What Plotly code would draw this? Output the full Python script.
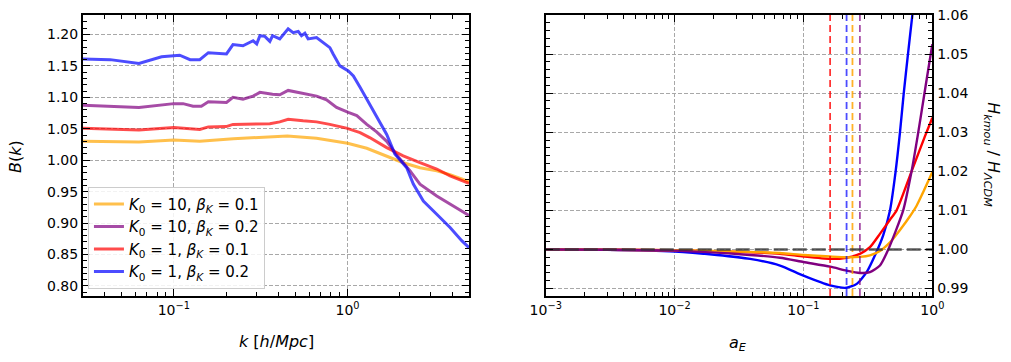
import math

import plotly.graph_objects as go

# ---- left panel: B(k) measurements ----
K_ORANGE = [0.030, 0.063, 0.10, 0.141, 0.22, 0.357, 0.45, 0.663, 1.0, 1.29, 1.68, 2.09, 2.61, 3.26, 3.89, 4.54, 5.0]
B_ORANGE = [1.030, 1.029, 1.032, 1.030, 1.034, 1.0376, 1.0387, 1.035, 1.027, 1.019, 1.007, 0.996, 0.988, 0.983, 0.977, 0.970, 0.966]

K_PURPLE = [0.030, 0.063, 0.10, 0.113, 0.129, 0.144, 0.158, 0.201, 0.219, 0.25, 0.286, 0.313, 0.37, 0.407,
            0.455, 0.52, 0.58, 0.663, 0.757, 0.864, 1.01, 1.13, 1.29, 1.47, 1.68, 1.92, 2.29, 2.61, 3.26,
            3.89, 4.54, 5.0]
B_PURPLE = [1.0876, 1.084, 1.090, 1.090, 1.086, 1.086, 1.093, 1.092, 1.100, 1.097, 1.102, 1.108, 1.105, 1.104,
            1.111, 1.108, 1.105, 1.102, 1.096, 1.084, 1.076, 1.071, 1.057, 1.045, 1.030, 1.008, 0.983, 0.962,
            0.943, 0.930, 0.919, 0.912]

K_RED = [0.030, 0.063, 0.10, 0.141, 0.158, 0.20, 0.219, 0.286, 0.357, 0.407, 0.455, 0.555, 0.663, 0.79,
         0.985, 1.18, 1.34, 1.68, 2.09, 2.61, 3.26, 3.89, 4.54, 5.0]
B_RED = [1.051, 1.048, 1.052, 1.049, 1.053, 1.0535, 1.057, 1.058, 1.058, 1.061, 1.065, 1.0626, 1.061, 1.057,
         1.051, 1.044, 1.036, 1.020, 1.007, 0.996, 0.986, 0.975, 0.968, 0.963]

K_BLUE = [0.030, 0.043, 0.063, 0.085, 0.108, 0.124, 0.141, 0.158, 0.201, 0.219, 0.25, 0.286, 0.30, 0.313,
          0.334, 0.357, 0.37, 0.39, 0.407, 0.455, 0.486, 0.52, 0.543, 0.568, 0.593, 0.663, 0.724, 0.791,
          0.826, 0.903, 1.01, 1.08, 1.18, 1.29, 1.47, 1.68, 1.87, 2.19, 2.39, 2.73, 3.26, 3.89, 4.54, 5.0]
B_BLUE = [1.161, 1.160, 1.154, 1.1645, 1.167, 1.160, 1.160, 1.171, 1.169, 1.184, 1.182, 1.190, 1.185, 1.198,
          1.197, 1.189, 1.198, 1.195, 1.193, 1.209, 1.203, 1.205, 1.198, 1.202, 1.193, 1.195, 1.187, 1.179,
          1.169, 1.150, 1.142, 1.134, 1.116, 1.097, 1.068, 1.041, 1.010, 0.988, 0.962, 0.935, 0.914, 0.893,
          0.872, 0.861]

# ---- right panel: H_kmou / H_LCDM ----
A_BLUE = [0.001, 0.003, 0.01, 0.0213, 0.0385, 0.0658, 0.1, 0.161, 0.216, 0.259, 0.309, 0.37, 0.416, 0.469,
          0.519, 0.561, 0.60, 0.647, 0.70, 0.73]
H_BLUE = [1.0, 0.99995, 0.9995, 0.9986, 0.9976, 0.9959, 0.9933, 0.9908, 0.9902, 0.9912, 0.9942, 0.9995,
          1.0037, 1.0100, 1.0200, 1.0300, 1.0400, 1.0500, 1.0600, 1.0650]

A_RED = [0.001, 0.003, 0.01, 0.0385, 0.0658, 0.1, 0.161, 0.216, 0.274, 0.328, 0.392, 0.469, 0.528, 0.69,
         0.877, 1.0]
H_RED = [1.0, 0.99995, 0.9998, 0.9993, 0.9989, 0.9982, 0.9976, 0.9979, 0.9989, 1.0006, 1.0040, 1.0076,
         1.0100, 1.0200, 1.0290, 1.0337]

A_ORANGE = [0.001, 0.003, 0.01, 0.0385, 0.0658, 0.1, 0.161, 0.216, 0.274, 0.328, 0.392, 0.469, 0.561, 0.67,
            0.755, 0.85, 1.0]
H_ORANGE = [1.0, 0.99995, 0.9998, 0.9994, 0.9991, 0.9986, 0.9982, 0.9980, 0.9981, 0.9985, 0.9996, 1.0018,
            1.0050, 1.0085, 1.0112, 1.0147, 1.0198]

A_PURPLE = [0.001, 0.003, 0.01, 0.0385, 0.0658, 0.1, 0.161, 0.216, 0.274, 0.328, 0.392, 0.455, 0.594, 0.69,
            0.769, 0.85, 0.929, 1.0]
H_PURPLE = [1.0, 0.99995, 0.9997, 0.9986, 0.9979, 0.9968, 0.9956, 0.9946, 0.9940, 0.9942, 0.9959, 1.0000,
            1.0100, 1.0200, 1.0290, 1.0380, 1.0460, 1.0525]

TRANSITION_A = [0.161, 0.216, 0.240, 0.274]
TRANSITION_COLORS = ["rgba(255,0,0,0.8)", "rgba(0,0,255,0.7)", "rgba(255,165,0,0.85)", "rgba(128,0,128,0.7)"]
LCDM_LEVEL = 1.0

K_RANGE = [0.03, 5.0]
B_RANGE = [0.784, 1.231]
A_RANGE = [0.001, 1.0]
H_RANGE = [0.9881, 1.06]

LEGEND_LABELS = [
    "<i>K</i><sub>0</sub> = 10, <i>β<sub>K</sub></i> = 0.1",
    "<i>K</i><sub>0</sub> = 10, <i>β<sub>K</sub></i> = 0.2",
    "<i>K</i><sub>0</sub> = 1, <i>β<sub>K</sub></i> = 0.1",
    "<i>K</i><sub>0</sub> = 1, <i>β<sub>K</sub></i> = 0.2",
]
FADED = ["rgba(255,165,0,0.7)", "rgba(128,0,128,0.7)", "rgba(255,0,0,0.7)", "rgba(0,0,255,0.7)"]

FONT = "DejaVu Sans"

fig = go.Figure()

for k, b, name, color in zip(
    [K_ORANGE, K_PURPLE, K_RED, K_BLUE],
    [B_ORANGE, B_PURPLE, B_RED, B_BLUE],
    LEGEND_LABELS,
    FADED,
):
    fig.add_trace(go.Scatter(x=k, y=b, mode="lines", name=name, xaxis="x", yaxis="y",
                             line=dict(color=color, width=3)))

for a, h, color in zip(
    [A_BLUE, A_RED, A_ORANGE, A_PURPLE],
    [H_BLUE, H_RED, H_ORANGE, H_PURPLE],
    ["#0000ff", "#ff0000", "#ffa500", "#800080"],
):
    fig.add_trace(go.Scatter(x=a, y=h, mode="lines", showlegend=False, xaxis="x2", yaxis="y2",
                             line=dict(color=color, width=2.4, shape="spline", smoothing=0.6)))

# transition scale factors, full height of the panel
for a, color in zip(TRANSITION_A, TRANSITION_COLORS):
    fig.add_trace(go.Scatter(x=[a, a], y=H_RANGE, mode="lines", showlegend=False, xaxis="x2", yaxis="y2",
                             line=dict(color=color, width=1.8, dash="7px,4px")))

fig.add_trace(go.Scatter(x=A_RANGE, y=[LCDM_LEVEL, LCDM_LEVEL], mode="lines", showlegend=False,
                         xaxis="x2", yaxis="y2",
                         line=dict(color="rgba(50,50,50,0.8)", width=2.4, dash="14px,5px")))


def minor_decades(lo, hi):
    return [m * 10.0 ** e for e in range(lo, hi) for m in range(2, 10)]


axis_style = dict(
    showline=True, linewidth=2, linecolor="black", mirror="allticks", automargin=False,
    ticks="inside", ticklen=7, tickwidth=1.3, tickcolor="black",
    showgrid=True, gridcolor="#a8a8a8", griddash="4px,2px", gridwidth=0.8, zeroline=False,
    tickfont=dict(family=FONT, size=14, color="black"),
)
minor_style = dict(ticks="inside", ticklen=4, tickwidth=1, tickcolor="black", showgrid=False)

fig.update_layout(
    width=1011, height=362,
    margin=dict(l=0, r=0, t=0, b=0, autoexpand=False),
    paper_bgcolor="white", plot_bgcolor="white",
    font=dict(family=FONT, size=14, color="black"),
    xaxis=dict(axis_style, type="log", domain=[0.0821, 0.4639], anchor="y",
               range=[math.log10(K_RANGE[0]), math.log10(K_RANGE[1])],
               tickvals=[0.1, 1.0], ticktext=["10<sup>−1</sup>", "10<sup>0</sup>"],
               minor=dict(minor_style, tickvals=[v for v in minor_decades(-2, 1) if 0.03 <= v <= 5])),
    yaxis=dict(axis_style, domain=[0.1823, 0.9586], anchor="x", range=B_RANGE,
               tickvals=[0.80, 0.85, 0.90, 0.95, 1.00, 1.05, 1.10, 1.15, 1.20], tickformat=".2f",
               minor=dict(minor_style, dtick=0.01)),
    xaxis2=dict(axis_style, type="log", domain=[0.5398, 0.9222], anchor="y2",
                range=[math.log10(A_RANGE[0]), math.log10(A_RANGE[1])],
                tickvals=[0.001, 0.01, 0.1, 1.0],
                ticktext=["10<sup>−3</sup>", "10<sup>−2</sup>", "10<sup>−1</sup>", "10<sup>0</sup>"],
                minor=dict(minor_style, tickvals=minor_decades(-3, 0))),
    yaxis2=dict(axis_style, domain=[0.1823, 0.9586], anchor="x2", side="right", range=H_RANGE,
                tickvals=[0.99, 1.00, 1.01, 1.02, 1.03, 1.04, 1.05, 1.06], tickformat=".2f",
                minor=dict(minor_style, dtick=0.002)),
    legend=dict(x=0.087, y=0.484, xanchor="left", yanchor="top",
                bgcolor="rgba(255,255,255,0.85)", bordercolor="#cccccc", borderwidth=1,
                font=dict(family=FONT, size=15, color="black")),
)

title_font = dict(family=FONT, size=16, color="black")
for text, x, y, angle in [
    ("<i>B</i>(<i>k</i>)", 0.016, 0.567, -90),
    ("<i>k</i> [<i>h</i>/<i>Mpc</i>]", 0.2737, 0.056, 0),
    ("<i>a<sub>E</sub></i>", 0.730, 0.052, 0),
    ("<i>H<sub>kmou</sub></i> / <i>H<sub>ΛCDM</sub></i>", 0.981, 0.572, 90),
]:
    fig.add_annotation(text=text, x=x, y=y, xref="paper", yref="paper", xanchor="center", yanchor="middle",
                       textangle=angle, showarrow=False, font=title_font)

fig.write_html("out.html", config={"displayModeBar": False},
               post_script="document.body.style.margin = '0px';")
